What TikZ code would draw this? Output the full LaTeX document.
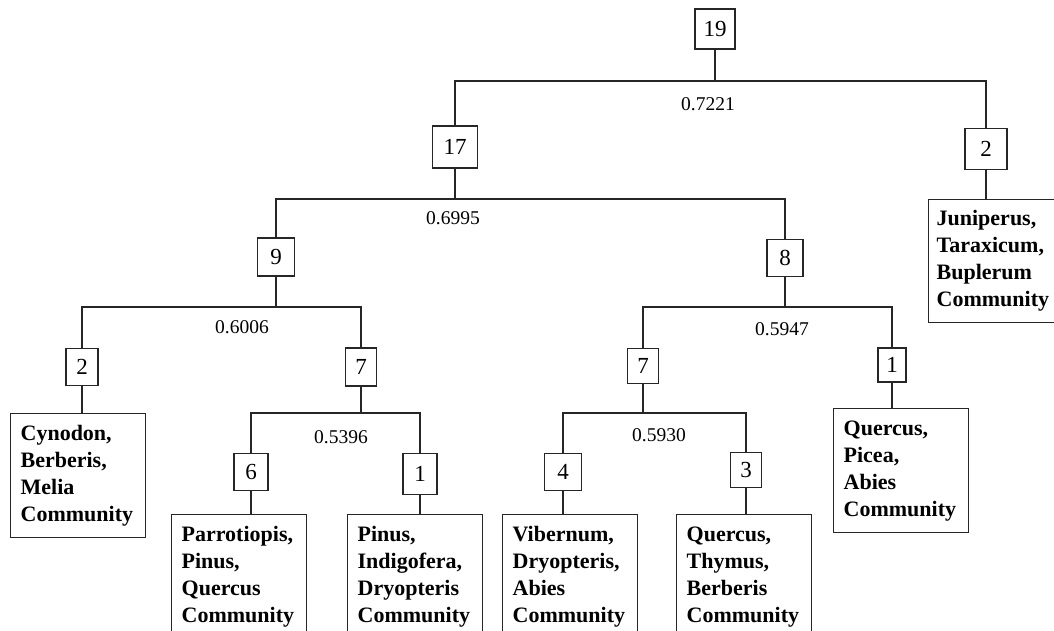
\documentclass[tikz,border=0pt]{standalone}
\usepackage{fontspec}
\setmainfont{Liberation Serif}
\begin{document}
\begin{tikzpicture}[x=1pt,y=-1pt,
  conn/.style={draw=black!85, line width=1.3pt},
  numbox/.style={draw=black!85, line width=1.3pt, inner sep=0pt, minimum width=36pt, minimum height=38pt,
    font=\fontsize{23}{25}\selectfont},
  leafbox/.style={draw=black!85, line width=1.3pt, anchor=north west, inner xsep=10pt, inner ysep=0pt,
    text width=115pt, align=left, minimum height=124pt,
    font=\fontsize{22}{27}\selectfont\bfseries},
  simlabel/.style={inner sep=0pt, font=\fontsize{19.5}{21}\selectfont}
]
\useasboundingbox (0,0) rectangle (1054,631);
\fill[white] (0,0) rectangle (1054,631);
\clip (0,0) rectangle (1054,631);

% number boxes
\node[numbox, minimum width=40pt, minimum height=40pt] (n19) at (715,29) {19};
\node[numbox, minimum width=45pt, minimum height=42pt] (n17) at (455,147) {17};
\node[numbox, minimum width=42pt, minimum height=41pt] (n2r) at (986,149) {2};
\node[numbox, minimum width=37pt, minimum height=38pt] (n9) at (276,257) {9};
\node[numbox, minimum width=36pt, minimum height=37pt] (n8) at (785,258) {8};
\node[numbox, minimum width=32pt, minimum height=37pt] (n2l) at (82,367) {2};
\node[numbox, minimum width=31pt, minimum height=38pt] (n7l) at (361,367) {7};
\node[numbox, minimum width=31pt, minimum height=35pt] (n7r) at (643,366) {7};
\node[numbox, minimum width=28pt, minimum height=34pt] (n1r) at (892,365) {1};
\node[numbox, minimum width=34pt, minimum height=37pt] (n6) at (251,472) {6};
\node[numbox, minimum width=34pt, minimum height=41pt] (n1m) at (420,474) {1};
\node[numbox, minimum width=37pt, minimum height=37pt] (n4) at (563,472) {4};
\node[numbox, minimum width=31pt, minimum height=35pt] (n3) at (746,470) {3};

% leaf boxes
\node[leafbox] (lcyn) at (10,413) {Cynodon,\\Berberis,\\Melia\\Community};
\node[leafbox] (lpar) at (171,514) {Parrotiopis,\\Pinus,\\Quercus\\Community};
\node[leafbox] (lpin) at (347,514) {Pinus,\\Indigofera,\\Dryopteris\\Community};
\node[leafbox] (lvib) at (502,514) {Vibernum,\\Dryopteris,\\Abies\\Community};
\node[leafbox] (lthy) at (676,514) {Quercus,\\Thymus,\\Berberis\\Community};
\node[leafbox] (lpic) at (833,408) {Quercus,\\Picea,\\Abies\\Community};
\node[leafbox, inner xsep=8pt, text width=110pt, minimum height=123pt] (ljun) at (928,199) {Juniperus,\\Taraxicum,\\Buplerum\\Community};

% bar coordinates
\coordinate (b19) at (715,81);
\coordinate (b17) at (455,199);
\coordinate (b9) at (276,307);
\coordinate (b8) at (785,307);
\coordinate (b7l) at (361,413);
\coordinate (b7r) at (643,413);

% connectors
\draw[conn] (n19.south) -- (b19);
\draw[conn] (n17.north) |- (b19) -| (n2r.north);
\draw[conn] (n17.south) -- (b17);
\draw[conn] (n9.north) |- (b17) -| (n8.north);
\draw[conn] (n9.south) -- (b9);
\draw[conn] (n2l.north) |- (b9) -| (n7l.north);
\draw[conn] (n8.south) -- (b8);
\draw[conn] (n7r.north) |- (b8) -| (n1r.north);
\draw[conn] (n7l.south) -- (b7l);
\draw[conn] (n6.north) |- (b7l) -| (n1m.north);
\draw[conn] (n7r.south) -- (b7r);
\draw[conn] (n4.north) |- (b7r) -| (n3.north);

\draw[conn] (n2r.south) -- (n2r.south |- ljun.north);
\draw[conn] (n2l.south) -- (n2l.south |- lcyn.north);
\draw[conn] (n1r.south) -- (n1r.south |- lpic.north);
\draw[conn] (n6.south) -- (n6.south |- lpar.north);
\draw[conn] (n1m.south) -- (n1m.south |- lpin.north);
\draw[conn] (n4.south) -- (n4.south |- lvib.north);
\draw[conn] (n3.south) -- (n3.south |- lthy.north);

% similarity labels
\node[simlabel] (s19) at (708,104) {0.7221};
\node[simlabel] (s17) at (453,218) {0.6995};
\node[simlabel] (s9) at (242,327) {0.6006};
\node[simlabel] (s8) at (782,329) {0.5947};
\node[simlabel] (s7l) at (341,437) {0.5396};
\node[simlabel] (s7r) at (659,435) {0.5930};
\end{tikzpicture}
\end{document}
